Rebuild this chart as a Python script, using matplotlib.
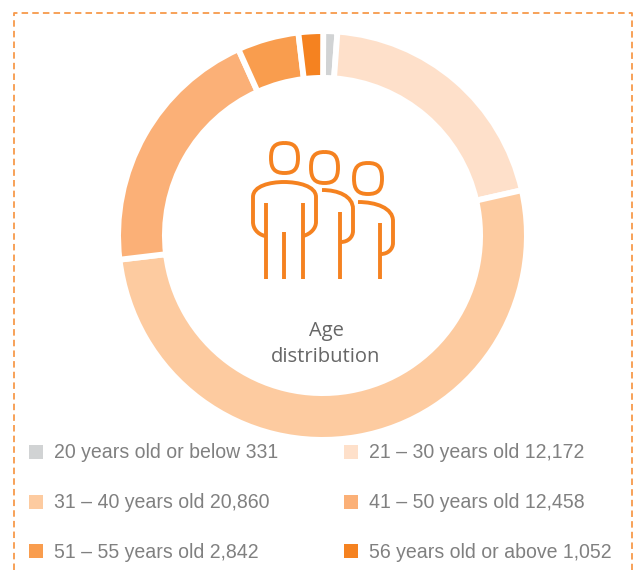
import matplotlib
matplotlib.use("Agg")
import matplotlib.pyplot as plt
from matplotlib.patches import PathPatch, Rectangle
from matplotlib.path import Path

# Legend figures as printed on the chart
age_groups = ["20 years old or below", "21 – 30 years old", "31 – 40 years old",
              "41 – 50 years old", "51 – 55 years old", "56 years old or above"]
headcounts = ["331", "12,172", "20,860", "12,458", "2,842", "1,052"]

# Arc sizes read off the ring (degrees), the drawing is not proportional to the counts
ring_sweeps = [4.0, 73.0, 186.0, 72.5, 17.5, 7.0]
ring_colors = ["#D1D3D4", "#FEE0CA", "#FDCBA0", "#FBB077", "#F99D4E", "#F58220"]

ORANGE = "#F58220"
W, H = 634, 570

fig = plt.figure(figsize=(W / 100, H / 100), dpi=100)
ax = fig.add_axes([0, 0, 1, 1])

# Donut, the white edge eats about 3 px on each rim
ax.pie(ring_sweeps, colors=ring_colors, startangle=89.8, counterclock=False,
       center=(322.5, H - 235.5), radius=204.4,
       wedgeprops=dict(width=46.8, edgecolor="white", linewidth=4.2))
ax.set_xlim(0, W)
ax.set_ylim(0, H)
ax.set_aspect("equal")
ax.axis("off")

# Overlay in image pixel coordinates for the border, icon and legend
deco = fig.add_axes([0, 0, 1, 1], facecolor="none")
deco.set_xlim(0, W)
deco.set_ylim(H, 0)
deco.axis("off")

# Dashed frame, open at the bottom
deco.plot([14, 14, 632, 632], [H, 12.5, 12.5, H], color="#F79A4B", lw=1.3,
          linestyle=(0, (3.6, 2.3)), solid_capstyle="butt")


def curve(points):
    codes = [Path.MOVETO] + [Path.CURVE4] * (len(points) - 1)
    deco.add_patch(PathPatch(Path(points, codes), fill=False, edgecolor=ORANGE,
                             lw=2.8, capstyle="butt"))


def head(x0, y0, x1, y1):
    # squashed oval, four bezier corners
    xm, ym = (x0 + x1) / 2, (y0 + y1) / 2
    dx, dy = (x1 - x0) * 0.36, (y1 - y0) * 0.36
    curve([(xm, y0), (xm + dx, y0), (x1, ym - dy), (x1, ym),
           (x1, ym + dy), (xm + dx, y1), (xm, y1),
           (xm - dx, y1), (x0, ym + dy), (x0, ym),
           (x0, ym - dy), (xm - dx, y0), (xm, y0)])


def leg(x, y0, y1=279):
    deco.plot([x, x], [y0, y1], color=ORANGE, lw=2.8, solid_capstyle="butt")


# People icon
head(271, 143, 298, 173)
head(311, 152, 338, 183)
head(354, 163, 382, 194)

curve([(265, 236), (257, 234), (253, 228), (253, 222),
       (253, 212), (253, 206), (253, 197),
       (253, 186), (270, 182), (284, 182),
       (298, 182), (316, 186), (316, 197),
       (316, 206), (316, 212), (316, 222),
       (316, 228), (311, 234), (303, 236)])
curve([(322, 190), (338, 190), (353, 196), (353, 209),
       (353, 216), (353, 224), (353, 231),
       (353, 237), (348, 242), (341, 242)])
curve([(358, 202), (376, 202), (393, 208), (393, 221),
       (393, 228), (393, 236), (393, 243),
       (393, 249), (388, 254), (381, 254)])

for x, top in [(265.5, 203), (284, 232), (302.5, 203), (340, 212), (380, 223)]:
    leg(x, top)

# Centre caption
deco.text(326, 331, "Age", ha="center", va="center", family="Open Sans",
          fontsize=14.5, color="#666666")
deco.text(326, 357, "distribution", ha="center", va="center", family="Open Sans",
          fontsize=14.5, color="#666666")

# Legend, two columns and three rows
col_x = [29, 344]
row_y = [452, 502, 551]
for i, (group, count) in enumerate(zip(age_groups, headcounts)):
    x = col_x[i % 2]
    y = row_y[i // 2]
    deco.add_patch(Rectangle((x, y - 7), 14, 14, facecolor=ring_colors[i], edgecolor="none"))
    deco.text(x + 25, y + 1, f"{group} {count}", ha="left", va="center",
              family="Liberation Sans", fontsize=14.05, color="#808080")

fig.savefig("out.png", dpi=100, facecolor="white")
